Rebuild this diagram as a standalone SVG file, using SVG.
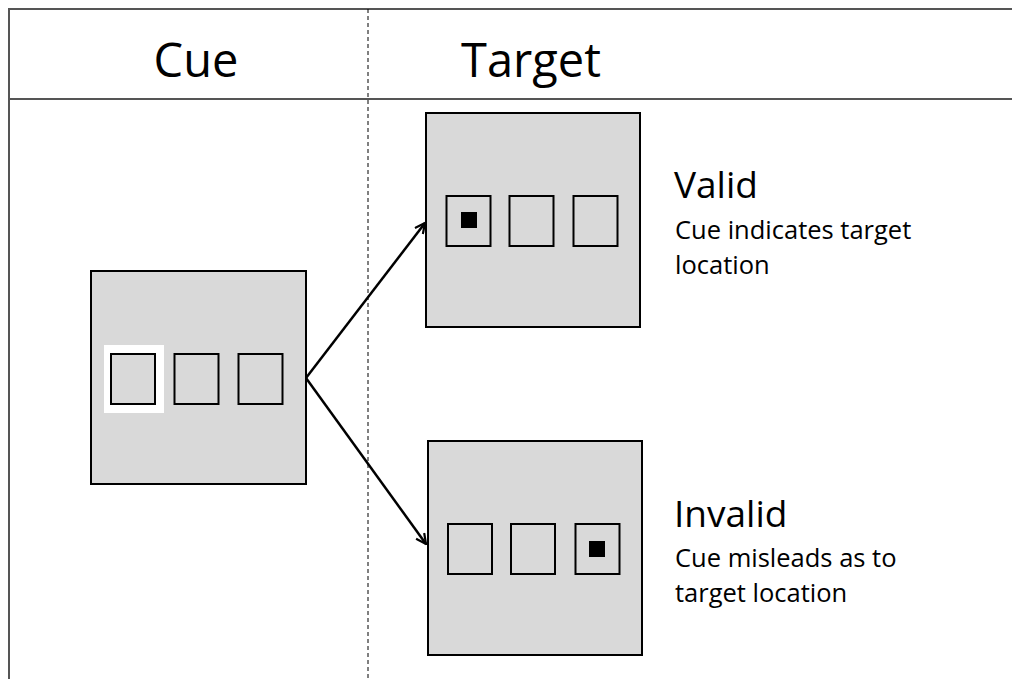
<svg xmlns="http://www.w3.org/2000/svg" width="1012" height="679" viewBox="0 0 1012 679">
<style>
.frame{stroke:#555;stroke-width:2;fill:none}
.panel{fill:#d9d9d9;stroke:#000;stroke-width:2}
.slot{fill:#d9d9d9;stroke:#000;stroke-width:2}
.dot{fill:#000}
.t{font-family:"Open Sans","Liberation Sans",sans-serif;fill:#000}
.h{font-size:47px}
.l{font-size:37px}
.s{font-size:25.5px}
.conn{stroke:#000;stroke-width:2.5;fill:none;marker-end:url(#ah)}
</style>
<defs>
<marker id="ah" viewBox="0 0 12 12" refX="11" refY="6" markerWidth="12" markerHeight="12" markerUnits="userSpaceOnUse" orient="auto">
<path d="M1,1 L11,6 L1,11" fill="none" stroke="#000" stroke-width="2.2"/>
</marker>
</defs>
<rect width="1012" height="679" fill="#fff"/>
<g id="frame">
<line class="frame" x1="9" y1="9" x2="1012" y2="9"/>
<line class="frame" x1="9" y1="99" x2="1012" y2="99"/>
<line class="frame" x1="9" y1="8" x2="9" y2="679"/>
<line x1="368" y1="9" x2="368" y2="679" stroke="#000" stroke-width="1" stroke-dasharray="4,3"/>
<text class="t h" x="196" y="77" text-anchor="middle">Cue</text>
<text class="t h" x="531" y="77" text-anchor="middle">Target</text>
</g>
<g id="cue">
<rect class="panel" x="91" y="271" width="215" height="213"/>
<rect x="104" y="345" width="60" height="68" fill="#fff"/>
<rect class="slot" x="111" y="354" width="44" height="50"/>
<rect class="slot" x="174.5" y="354" width="44" height="50"/>
<rect class="slot" x="238.5" y="354" width="44" height="50"/>
</g>
<g id="valid">
<rect class="panel" x="426" y="113" width="214" height="214"/>
<rect class="slot" x="446.5" y="196" width="44" height="50"/>
<rect class="dot" x="461" y="212" width="16" height="16"/>
<rect class="slot" x="509.5" y="196" width="44" height="50"/>
<rect class="slot" x="573.5" y="196" width="44" height="50"/>
<text class="t l" x="674" y="198">Valid</text>
<text class="t s" x="675" y="239">Cue indicates target</text>
<text class="t s" x="675" y="274">location</text>
</g>
<g id="invalid">
<rect class="panel" x="428" y="441" width="214" height="214"/>
<rect class="slot" x="448" y="524" width="44" height="50"/>
<rect class="slot" x="511" y="524" width="44" height="50"/>
<rect class="slot" x="575.5" y="524" width="44" height="50"/>
<rect class="dot" x="589" y="541" width="16" height="16"/>
<text class="t l" x="674" y="527">Invalid</text>
<text class="t s" x="675" y="567">Cue misleads as to</text>
<text class="t s" x="675" y="602">target location</text>
</g>
<g id="connectors">
<path class="conn" d="M306,378 L425,223"/>
<path class="conn" d="M306,378 L426,544"/>
</g>
</svg>
